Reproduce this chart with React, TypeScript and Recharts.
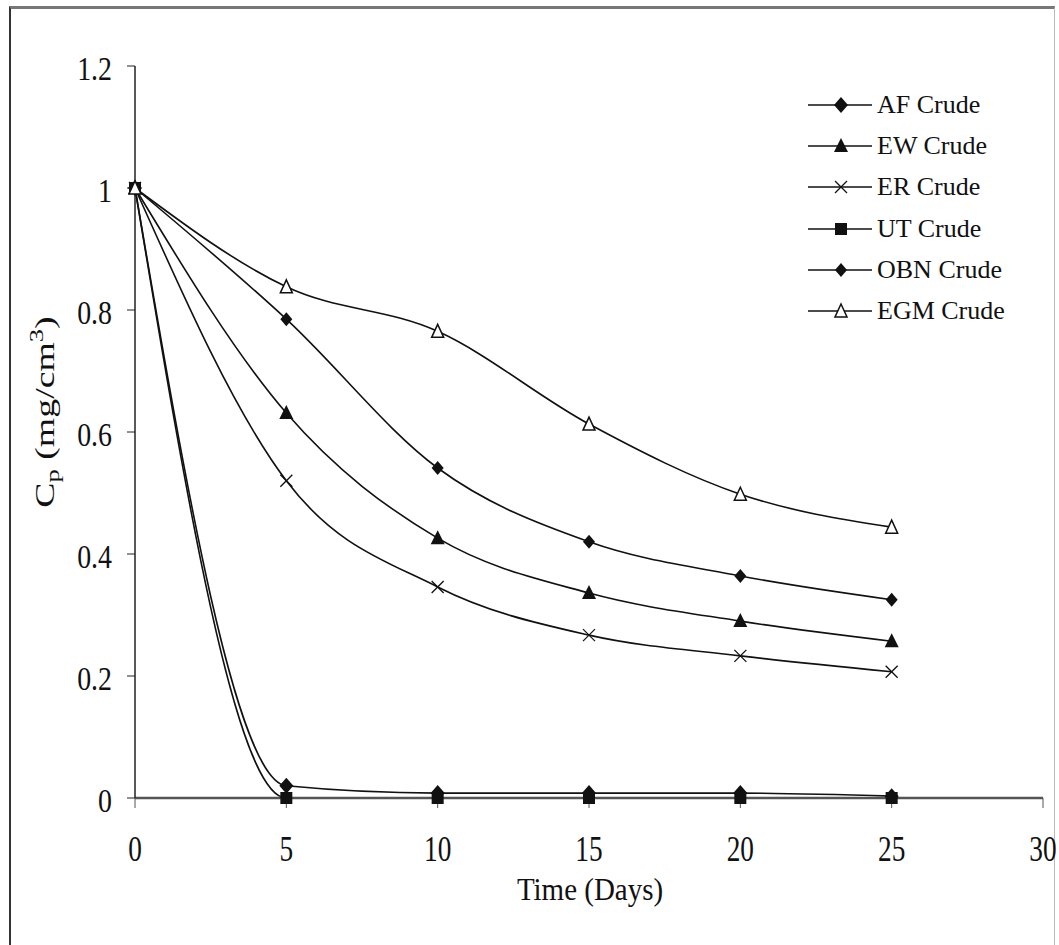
import React from 'react';
import { LineChart, Line, XAxis, YAxis } from 'recharts';

const days = [0, 5, 10, 15, 20, 25];
const afCrude = [1, 0.02, 0.008, 0.008, 0.008, 0.003];
const ewCrude = [1, 0.631, 0.426, 0.336, 0.29, 0.257];
const erCrude = [1, 0.52, 0.346, 0.267, 0.233, 0.207];
const utCrude = [1, 0, 0, 0, 0, 0];
const obnCrude = [1, 0.785, 0.541, 0.42, 0.364, 0.325];
const egmCrude = [1, 0.838, 0.765, 0.613, 0.498, 0.444];

const xTicks = [0, 5, 10, 15, 20, 25, 30];
const yTicks = [0, 0.2, 0.4, 0.6, 0.8, 1, 1.2];

const series = [
    { key: 'af', name: 'AF Crude', shape: 'diamond' },
    { key: 'ew', name: 'EW Crude', shape: 'triangle' },
    { key: 'er', name: 'ER Crude', shape: 'cross' },
    { key: 'ut', name: 'UT Crude', shape: 'square' },
    { key: 'obn', name: 'OBN Crude', shape: 'smallDiamond' },
    { key: 'egm', name: 'EGM Crude', shape: 'openTriangle' },
];

const data = days.map((d, i) => ({
    day: d,
    af: afCrude[i],
    ew: ewCrude[i],
    er: erCrude[i],
    ut: utCrude[i],
    obn: obnCrude[i],
    egm: egmCrude[i],
}));

const FONT = '"Liberation Serif", "Times New Roman", serif';
const INK = '#111';

const Marker = ({ shape, cx, cy }: { shape: string; cx: number; cy: number }) => {
    if (cx == null || cy == null) return null;
    switch (shape) {
        case 'diamond':
            return <polygon points={`${cx},${cy - 8} ${cx + 7},${cy} ${cx},${cy + 8} ${cx - 7},${cy}`} fill={INK} />;
        case 'smallDiamond':
            return <polygon points={`${cx},${cy - 7} ${cx + 6},${cy} ${cx},${cy + 7} ${cx - 6},${cy}`} fill={INK} />;
        case 'triangle':
            return <polygon points={`${cx},${cy - 8} ${cx + 7},${cy + 6} ${cx - 7},${cy + 6}`} fill={INK} />;
        case 'openTriangle':
            return <polygon points={`${cx},${cy - 7} ${cx + 6},${cy + 6} ${cx - 6},${cy + 6}`} fill="#fff" stroke={INK} strokeWidth={1.5} />;
        case 'square':
            return <rect x={cx - 6} y={cy - 6} width={12} height={12} fill={INK} />;
        case 'cross':
            return (
                <g stroke={INK} strokeWidth={1.3}>
                    <line x1={cx - 6} y1={cy - 6} x2={cx + 6} y2={cy + 6} />
                    <line x1={cx - 6} y1={cy + 6} x2={cx + 6} y2={cy - 6} />
                </g>
            );
        default:
            return null;
    }
};

// tick digits in the picture are tall and narrow, so squeeze them sideways
const XTick = ({ x, y, payload }: any) => {
    const by = y + 53;
    return (
        <text
            x={x}
            y={by}
            textAnchor="middle"
            fontFamily={FONT}
            fontSize={35}
            fill="#111"
            transform={`translate(${x},${by}) scale(0.78,1) translate(${-x},${-by})`}
        >
            {payload.value}
        </text>
    );
};

const YTick = ({ y, payload }: any) => {
    const rx = 112;
    const by = y + 14;
    return (
        <text
            x={rx}
            y={by}
            textAnchor="end"
            fontFamily={FONT}
            fontSize={34}
            fill="#111"
            transform={`translate(${rx},${by}) scale(0.82,1) translate(${-rx},${-by})`}
        >
            {payload.value}
        </text>
    );
};

const LegendBox = () => (
    <div style={{ position: 'absolute', left: 806, top: 84, fontFamily: FONT, fontSize: 26, color: '#111' }}>
        {series.map((s) => (
            <div key={s.key} style={{ display: 'flex', alignItems: 'center', height: 41.3 }}>
                <svg width={68} height={24} style={{ flex: 'none' }}>
                    <line x1={2} y1={12} x2={66} y2={12} stroke={INK} strokeWidth={1.5} />
                    <Marker shape={s.shape} cx={35} cy={12} />
                </svg>
                <span style={{ marginLeft: 3, whiteSpace: 'nowrap' }}>{s.name}</span>
            </div>
        ))}
    </div>
);

const YLabel = () => (
    <text x={0} y={0} transform="translate(54,412) rotate(-90) scale(1.4,1)" textAnchor="middle" fontFamily={FONT} fontSize={27} fill="#111">
        C<tspan fontSize={19} dy={5}>p</tspan>
        <tspan dy={-5}> (mg/cm</tspan>
        <tspan fontSize={19} dy={-11}>3</tspan>
        <tspan dy={11}>)</tspan>
    </text>
);

const XLabel = () => (
    <text x={0} y={0} transform="translate(590,900) scale(1,1.12)" textAnchor="middle" fontFamily={FONT} fontSize={29} fill="#111">
        Time (Days)
    </text>
);

export default function App() {
    return (
        <div style={{ position: 'absolute', left: 0, top: 0, width: 1059, height: 945, background: '#fff' }}>
            <div
                style={{
                    position: 'absolute',
                    left: 9,
                    top: 6,
                    width: 1046,
                    height: 945,
                    borderTop: '3px solid #777',
                    borderLeft: '2px solid #333',
                    borderRight: '1px solid #bbb',
                    boxSizing: 'border-box',
                }}
            />
            <div style={{ position: 'absolute', left: 0, top: 0 }}>
                <LineChart width={1059} height={945} data={data} margin={{ top: 66, right: 16, bottom: 87, left: 0 }}>
                    <XAxis
                        dataKey="day"
                        type="number"
                        domain={[0, 30]}
                        ticks={xTicks}
                        interval={0}
                        height={60}
                        tickSize={10}
                        tickMargin={0}
                        axisLine={{ stroke: '#555', strokeWidth: 2.5 }}
                        tickLine={{ stroke: '#555' }}
                        tick={<XTick />}
                        label={<XLabel />}
                    />
                    <XAxis xAxisId="top" orientation="top" type="number" domain={[0, 30]} height={0} tick={false} tickLine={false} axisLine={{ stroke: '#222', strokeWidth: 1.5 }} />
                    <YAxis
                        type="number"
                        domain={[0, 1.2]}
                        ticks={yTicks}
                        interval={0}
                        width={135}
                        tickSize={8}
                        tickMargin={10}
                        axisLine={{ stroke: '#222', strokeWidth: 1.5 }}
                        tickLine={{ stroke: '#222' }}
                        tick={<YTick />}
                        label={<YLabel />}
                    />
                    <YAxis yAxisId="r" orientation="right" type="number" domain={[0, 1.2]} width={0} tick={false} tickLine={false} axisLine={{ stroke: '#222', strokeWidth: 1.5 }} />
                    {series.map((s) => (
                        <Line
                            key={s.key}
                            dataKey={s.key}
                            name={s.name}
                            type="monotone"
                            stroke={INK}
                            strokeWidth={1.6}
                            isAnimationActive={false}
                            dot={(p: any) => <Marker key={`${s.key}-${p.index}`} shape={s.shape} cx={p.cx} cy={p.cy} />}
                            activeDot={false}
                        />
                    ))}
                </LineChart>
            </div>
            <LegendBox />
        </div>
    );
}
